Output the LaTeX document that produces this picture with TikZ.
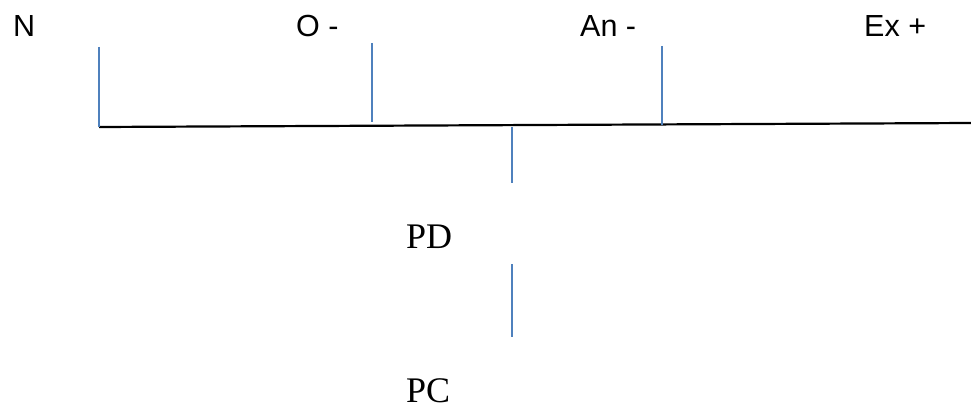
\documentclass[tikz,border=0pt]{standalone}
\usepackage{fontspec}
\setmainfont{Liberation Serif}
\newfontfamily\arialf{Liberation Sans}
\definecolor{tickblue}{HTML}{4F81BD}
\begin{document}
\begin{tikzpicture}[x=1pt,y=-1pt,
  sanslbl/.style={font=\arialf\fontsize{30.5}{36}\selectfont, inner sep=0pt, anchor=base west},
  seriflbl/.style={font=\fontsize{36}{42}\selectfont, inner sep=0pt, anchor=base west},
  tick/.style={draw=tickblue, line width=2pt},
  axis/.style={draw=black, line width=2.2pt}]
\useasboundingbox (0,0) rectangle (971,404);
% labels
\node[sanslbl] (n) at (13,37) {N};
\node[sanslbl] (o) at (296,37) {O -};
\node[sanslbl] (an) at (580,37) {An -};
\node[sanslbl] (ex) at (864,37) {Ex +};
\node[seriflbl] (pd) at (406,248) {PD};
\node[seriflbl] (pc) at (406,402) {PC};
% axis
\coordinate (a0) at (99,127);
\coordinate (a1) at (971,123);
\draw[axis] (a0) -- (a1);
% ticks
\coordinate (t1a) at (99,47);
\coordinate (t2a) at (372,43);  \coordinate (t2b) at (372,122);
\coordinate (t3a) at (662,46);  \coordinate (t3b) at (662,125);
\coordinate (t4a) at (512,127); \coordinate (t4b) at (512,183);
\coordinate (t5a) at (512,264); \coordinate (t5b) at (512,337);
\draw[tick] (t1a) -- (a0);
\draw[tick] (t2a) -- (t2b);
\draw[tick] (t3a) -- (t3b);
\draw[tick] (t4a) -- (t4b);
\draw[tick] (t5a) -- (t5b);
\end{tikzpicture}
\end{document}
